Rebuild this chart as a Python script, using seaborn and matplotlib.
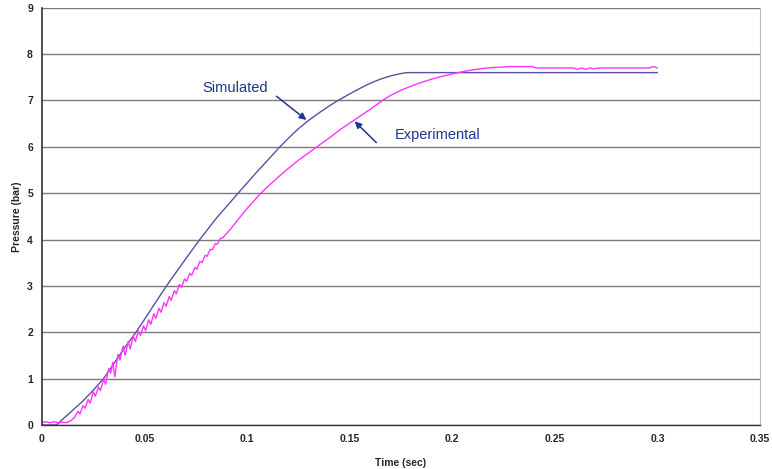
import seaborn as sns
import matplotlib.pyplot as plt
import pandas as pd

# simulated pressure trace (sec, bar)
sim_t = [0.0, 0.007, 0.010, 0.015, 0.020, 0.025, 0.030, 0.035, 0.040, 0.0458,
         0.050, 0.055, 0.0607, 0.065, 0.070, 0.0769, 0.085, 0.0956, 0.100, 0.105,
         0.110, 0.116, 0.120, 0.125, 0.130, 0.135, 0.140, 0.1443, 0.150, 0.155,
         0.160, 0.165, 0.170, 0.175, 0.178, 0.300]
sim_p = [0.0, 0.0, 0.12, 0.32, 0.52, 0.75, 1.0, 1.32, 1.65, 2.0,
         2.28, 2.62, 3.0, 3.27, 3.58, 4.0, 4.46, 5.0, 5.22, 5.47,
         5.71, 6.0, 6.18, 6.39, 6.57, 6.73, 6.88, 7.0, 7.14, 7.26,
         7.37, 7.46, 7.53, 7.58, 7.60, 7.60]

# experimental pressure trace (sec, bar)
exp_t = [0.000, 0.002, 0.004, 0.006, 0.008, 0.010, 0.012, 0.014, 0.016, 0.0175,
         0.0185, 0.020, 0.021, 0.0225, 0.0235, 0.025, 0.026, 0.0275, 0.0285, 0.030,
         0.031, 0.0325, 0.0335, 0.0345, 0.0355, 0.037, 0.038, 0.0395, 0.0405, 0.042,
         0.043, 0.0445, 0.0455, 0.047, 0.048, 0.0495, 0.0505, 0.052, 0.053, 0.0545,
         0.0555, 0.057, 0.058, 0.0595, 0.0605, 0.062, 0.063, 0.0645, 0.0655, 0.067,
         0.068, 0.0695, 0.0705, 0.072, 0.073, 0.0745, 0.0755, 0.077, 0.078, 0.0795,
         0.0805, 0.082, 0.083, 0.0845, 0.0855, 0.087, 0.088, 0.090, 0.092, 0.095,
         0.100, 0.1067, 0.110, 0.115, 0.120, 0.125, 0.130, 0.134, 0.140, 0.145,
         0.150, 0.155, 0.160, 0.166, 0.170, 0.175, 0.180, 0.185, 0.190, 0.195,
         0.200, 0.205, 0.210, 0.215, 0.220, 0.228, 0.239, 0.241, 0.259, 0.261,
         0.263, 0.265, 0.267, 0.269, 0.271, 0.296, 0.298, 0.300]
exp_p = [0.05, 0.07, 0.05, 0.07, 0.05, 0.06, 0.05, 0.09, 0.17, 0.30,
         0.24, 0.42, 0.36, 0.55, 0.47, 0.72, 0.62, 0.82, 0.74, 0.98,
         0.88, 1.22, 1.12, 1.35, 1.04, 1.52, 1.40, 1.70, 1.50, 1.80,
         1.64, 1.92, 1.80, 2.03, 1.93, 2.14, 2.03, 2.27, 2.17, 2.40,
         2.30, 2.52, 2.43, 2.64, 2.56, 2.77, 2.69, 2.90, 2.83, 3.03,
         2.97, 3.15, 3.10, 3.27, 3.23, 3.40, 3.36, 3.53, 3.50, 3.66,
         3.64, 3.79, 3.78, 3.91, 3.90, 4.03, 4.03, 4.13, 4.23, 4.40,
         4.67, 5.00, 5.14, 5.34, 5.53, 5.71, 5.87, 6.00, 6.19, 6.36,
         6.51, 6.66, 6.81, 7.00, 7.11, 7.22, 7.31, 7.39, 7.46, 7.52,
         7.57, 7.62, 7.66, 7.69, 7.71, 7.73, 7.73, 7.70, 7.70, 7.67,
         7.70, 7.67, 7.70, 7.68, 7.70, 7.70, 7.73, 7.70]

x_ticks = [0, 0.05, 0.1, 0.15, 0.2, 0.25, 0.3, 0.35]
x_labels = ["0", "0.05", "0.1", "0.15", "0.2", "0.25", "0.3", "0.35"]
y_ticks = list(range(0, 10))

sns.set_style("white")
plt.rcParams['font.family'] = ['Liberation Sans', 'DejaVu Sans']

sim = pd.DataFrame({"t": sim_t, "p": sim_p})
exp = pd.DataFrame({"t": exp_t, "p": exp_p})

fig = plt.figure(figsize=(7.72, 4.69), dpi=100)
ax = fig.add_axes([0.0544, 0.0938, 0.930, 0.8898])

sns.lineplot(x="t", y="p", data=sim, color="#5B4FA6", linewidth=1.0, ax=ax)
sns.lineplot(x="t", y="p", data=exp, color="#FF33FF", linewidth=1.0, ax=ax)

ax.set_xlim(0, 0.35)
ax.set_ylim(0, 9)
ax.set_xticks(x_ticks)
ax.set_xticklabels(x_labels)
ax.set_yticks(y_ticks)
ax.yaxis.grid(True, color="#7a7a7a", linewidth=1.0)
ax.set_axisbelow(True)
ax.tick_params(axis="both", labelsize=7.5, length=3, direction="out",
               color="#333333", width=0.8)
for lab in ax.get_xticklabels() + ax.get_yticklabels():
    lab.set_fontweight("bold")

ax.spines["top"].set_visible(False)
ax.spines["left"].set_color("#333333")
ax.spines["left"].set_linewidth(1.2)
ax.spines["bottom"].set_color("#333333")
ax.spines["bottom"].set_linewidth(1.0)
ax.spines["right"].set_color("#bbbbbb")
ax.spines["right"].set_linewidth(0.8)

ax.set_xlabel("Time (sec)", fontsize=7.5, fontweight="bold", labelpad=10)
ax.set_ylabel("Pressure (bar)", fontsize=7.5, fontweight="bold", labelpad=4)

# labels with pointer arrows
ax.text(0.094, 7.27, "Simulated", color="#1F3590", fontsize=10.5,
        ha="center", va="center")
ax.annotate("", xy=(0.1289, 6.58), xytext=(0.1143, 7.09),
            arrowprops=dict(arrowstyle="-|>", color="#1F3590", lw=1.1,
                            shrinkA=0, shrinkB=0, mutation_scale=10))
ax.text(0.193, 6.26, "Experimental", color="#1F3590", fontsize=10.5,
        ha="center", va="center")
ax.annotate("", xy=(0.1524, 6.55), xytext=(0.163, 6.09),
            arrowprops=dict(arrowstyle="-|>", color="#1F3590", lw=1.1,
                            shrinkA=0, shrinkB=0, mutation_scale=10))

fig.savefig("out.png", dpi=100)
